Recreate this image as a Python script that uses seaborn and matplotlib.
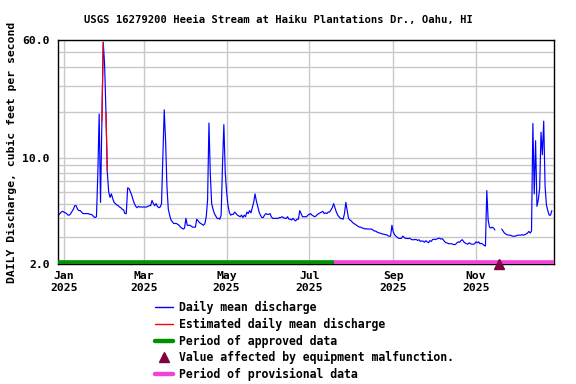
import numpy as np
import pandas as pd
import matplotlib
matplotlib.use("Agg")
import matplotlib.pyplot as plt
from matplotlib.lines import Line2D
from matplotlib.ticker import FixedLocator, FixedFormatter, NullFormatter
import seaborn as sns

# -------------------------
# data (daily mean discharge, cfs)
# -------------------------

title = "USGS 16279200 Heeia Stream at Haiku Plantations Dr., Oahu, HI"
ylabel = "DAILY Discharge, cubic feet per second"

start_date = "2024-12-28"

discharge = [
    4.2, 4.3, 4.4, 4.45,
    4.4, 4.35, 4.3, 4.2, 4.2, 4.3, 4.45, 4.6, 4.85, 4.85,
    4.6, 4.5, 4.5, 4.4, 4.3, 4.3, 4.3, 4.3, 4.3, 4.25,
    4.25, 4.2, 4.1, 4.05, 4.1, 7.8, 19.5, 5.1, 17.5, 58.0,
    41.5, 20.0, 8.1, 6.0, 5.5, 5.8, 5.4, 5.1, 5.0, 4.9,
    4.85, 4.75, 4.7, 4.6, 4.55, 4.3, 4.3, 6.35, 6.3, 6.0,
    5.7, 5.3, 5.0, 4.8, 4.7, 4.8, 4.75, 4.75, 4.75, 4.75,
    4.75, 4.75, 4.8, 4.85, 4.85, 5.25, 5.0, 4.85, 5.0, 4.8,
    4.7, 4.75, 5.0, 10.5, 20.8, 13.0, 6.5, 4.6, 4.2, 3.9,
    3.8, 3.7, 3.7, 3.7, 3.65, 3.6, 3.5, 3.45, 3.4, 3.45,
    4.0, 3.6, 3.6, 3.6, 3.55, 3.5, 3.5, 3.5, 3.95, 3.85,
    3.75, 3.7, 3.65, 3.6, 3.7, 4.1, 5.3, 17.0, 7.8, 5.0,
    4.6, 4.3, 4.15, 4.0, 4.0, 3.95, 4.2, 9.0, 16.6, 8.1,
    6.0, 4.9, 4.4, 4.2, 4.25, 4.25, 4.4, 4.3, 4.2, 4.15,
    4.1, 4.2, 4.05, 4.2, 4.1, 4.4, 4.3, 4.5, 4.35, 4.7,
    5.1, 5.8, 5.2, 4.8, 4.4, 4.2, 4.05, 4.05, 4.2, 4.3,
    4.25, 4.25, 4.3, 4.1, 4.0, 4.0, 4.0, 4.0, 4.0, 4.05,
    4.05, 4.1, 4.05, 4.0, 4.0, 4.1, 3.95, 3.95, 3.9, 4.0,
    3.9, 3.85, 3.95, 3.95, 4.5, 4.3, 4.1, 4.1, 4.1, 4.1,
    4.2, 4.25, 4.3, 4.2, 4.15, 4.1, 4.15, 4.25, 4.3, 4.35,
    4.4, 4.45, 4.3, 4.35, 4.3, 4.4, 4.4, 4.55, 4.7, 5.0,
    4.7, 4.4, 4.2, 4.1, 4.0, 3.98, 3.95, 4.3, 5.1, 4.5,
    4.0, 3.9, 3.85, 3.75, 3.7, 3.65, 3.6, 3.55, 3.5, 3.5,
    3.45, 3.45, 3.4, 3.42, 3.4, 3.4, 3.4, 3.4, 3.35, 3.3,
    3.3, 3.25, 3.22, 3.2, 3.18, 3.15, 3.15, 3.12, 3.12, 3.08,
    3.05, 3.05, 3.6, 3.25, 3.12, 3.05, 3.0, 2.95, 2.95, 2.95,
    3.05, 3.0, 2.95, 2.95, 2.94, 2.96, 2.92, 2.89, 2.89, 2.9,
    2.9, 2.86, 2.89, 2.82, 2.84, 2.83, 2.78, 2.85, 2.8, 2.76,
    2.85, 2.82, 2.9, 2.91, 2.9, 2.92, 2.95, 2.96, 2.92, 2.94,
    2.88, 2.8, 2.76, 2.75, 2.72, 2.72, 2.72, 2.7, 2.68, 2.7,
    2.76, 2.8, 2.78, 2.86, 2.89, 2.8, 2.75, 2.72, 2.7, 2.76,
    2.72, 2.7, 2.7, 2.72, 2.8, 2.76, 2.8, 2.72, 2.74, 2.7,
    2.65, 2.63, 6.1, 3.9, 3.5, 3.45, 3.5, 3.45, 3.35, np.nan,
    np.nan, np.nan, np.nan, 3.4, 3.3, 3.2, 3.15, 3.12, 3.1, 3.1,
    3.08, 3.05, 3.05, 3.05, 3.08, 3.1, 3.1, 3.1, 3.12, 3.1,
    3.12, 3.15, 3.2, 3.28, 3.2, 3.3, 16.9, 5.8, 13.0, 4.8,
    5.3, 6.3, 14.8, 10.5, 17.5, 6.5, 4.9, 4.5, 4.2, 4.2, 4.5,
]

# estimated values (red) - two short pieces
est_dates = ["2025-01-29", "2025-01-30", "2025-02-01", "2025-02-02"]
est_piece = [0, 0, 1, 1]

approved_end = "2025-07-19"
malfunction_dates = ["2025-11-18"]

month_ticks = ["2025-01-01", "2025-03-01", "2025-05-01",
               "2025-07-01", "2025-09-01", "2025-11-01"]
month_labels = ["Jan\n2025", "Mar\n2025", "May\n2025",
                "Jul\n2025", "Sep\n2025", "Nov\n2025"]

y_major = [2.0, 10.0, 60.0]
y_major_labels = ["2.0", "10.0", "60.0"]
y_minor = [3, 4, 5, 6, 7, 8, 9, 20, 30, 40, 50]

legend_labels = [
    "Daily mean discharge",
    "Estimated daily mean discharge",
    "Period of approved data",
    "Value affected by equipment malfunction.",
    "Period of provisional data",
]

# -------------------------
# style
# -------------------------

sns.set_style("white")
plt.rcParams["font.family"] = ["DejaVu Sans Mono"]
plt.rcParams["font.weight"] = "bold"
plt.rcParams["text.color"] = "black"
plt.rcParams["xtick.color"] = "black"
plt.rcParams["ytick.color"] = "black"

BLUE = "#0000FF"
RED = "#FF0000"
GREEN = "#009000"
MAGENTA = "#EE44D8"
MAROON = "#800040"
GRID = "#C8C8C8"

df = pd.DataFrame({
    "date": pd.date_range(start_date, periods=len(discharge), freq="D"),
    "flow": discharge,
})
df["piece"] = df["flow"].isna().cumsum()

est = df[df["date"].isin(pd.to_datetime(est_dates))].copy()
est["piece"] = est_piece

x_left = pd.Timestamp("2024-12-27 15:00")
x_right = pd.Timestamp("2025-12-28 14:00")

fig = plt.figure(figsize=(5.76, 3.84), dpi=100)
ax = fig.add_axes([58 / 576, 1 - 264 / 384, 496 / 576, 224 / 384])

sns.lineplot(data=df.dropna(), x="date", y="flow", units="piece",
             estimator=None, color=BLUE, lw=0.85, ax=ax)
sns.lineplot(data=est, x="date", y="flow", units="piece",
             estimator=None, color=RED, lw=0.85, ax=ax)

# approved / provisional bars along the bottom
ax.plot([x_left, pd.Timestamp(approved_end)], [2.0, 2.0],
        color=GREEN, lw=5.5, solid_capstyle="butt", zorder=4)
ax.plot([pd.Timestamp(approved_end), x_right], [2.0, 2.0],
        color=MAGENTA, lw=5.5, solid_capstyle="butt", zorder=4)

# equipment malfunction marker
ax.plot(pd.to_datetime(malfunction_dates), [2.0] * len(malfunction_dates),
        marker="^", ms=7, color=MAROON, ls="none", clip_on=False, zorder=6)

ax.set_yscale("log")
ax.set_ylim(2.0, 60.0)
ax.set_xlim(x_left, x_right)

ax.yaxis.set_major_locator(FixedLocator(y_major))
ax.yaxis.set_major_formatter(FixedFormatter(y_major_labels))
ax.yaxis.set_minor_locator(FixedLocator(y_minor))
ax.yaxis.set_minor_formatter(NullFormatter())

ax.set_xticks(pd.to_datetime(month_ticks))
ax.set_xticklabels(month_labels)

ax.grid(which="both", axis="y", color=GRID, lw=1.0)
ax.grid(which="major", axis="x", color=GRID, lw=1.0)
ax.set_axisbelow(True)

ax.tick_params(which="both", length=0, labelsize=8.2, colors="black")
ax.tick_params(axis="y", pad=6)
ax.tick_params(axis="x", pad=5)
for lab in ax.get_xticklabels() + ax.get_yticklabels():
    lab.set_fontweight("bold")

for sp in ax.spines.values():
    sp.set_color("black")
    sp.set_linewidth(1.0)
    sp.set_visible(True)

ax.set_xlabel("")
ax.set_ylabel("")
fig.text(12 / 576, 1 - 152 / 384, ylabel, rotation=90, color="black",
         ha="center", va="center", fontsize=8.2, fontweight="bold")

fig.text(278 / 576, 1 - 20 / 384, title, ha="center", va="center",
         color="black", fontsize=7.6, fontweight="bold")

handles = [
    Line2D([], [], color=BLUE, lw=1),
    Line2D([], [], color=RED, lw=1),
    Line2D([], [], color=GREEN, lw=3.2),
    Line2D([], [], color=MAROON, marker="^", ls="none", ms=7),
    Line2D([], [], color=MAGENTA, lw=3.2),
]
leg = fig.legend(handles, legend_labels, loc="upper left",
                 bbox_to_anchor=(155 / 576, 1 - 301 / 384),
                 frameon=False, borderpad=0, borderaxespad=0,
                 handlelength=1.6, handletextpad=0.45, labelspacing=0.32,
                 prop={"family": "DejaVu Sans Mono", "weight": "bold",
                       "size": 8.3})
for t in leg.get_texts():
    t.set_color("black")

fig.savefig("out.png", dpi=100)
